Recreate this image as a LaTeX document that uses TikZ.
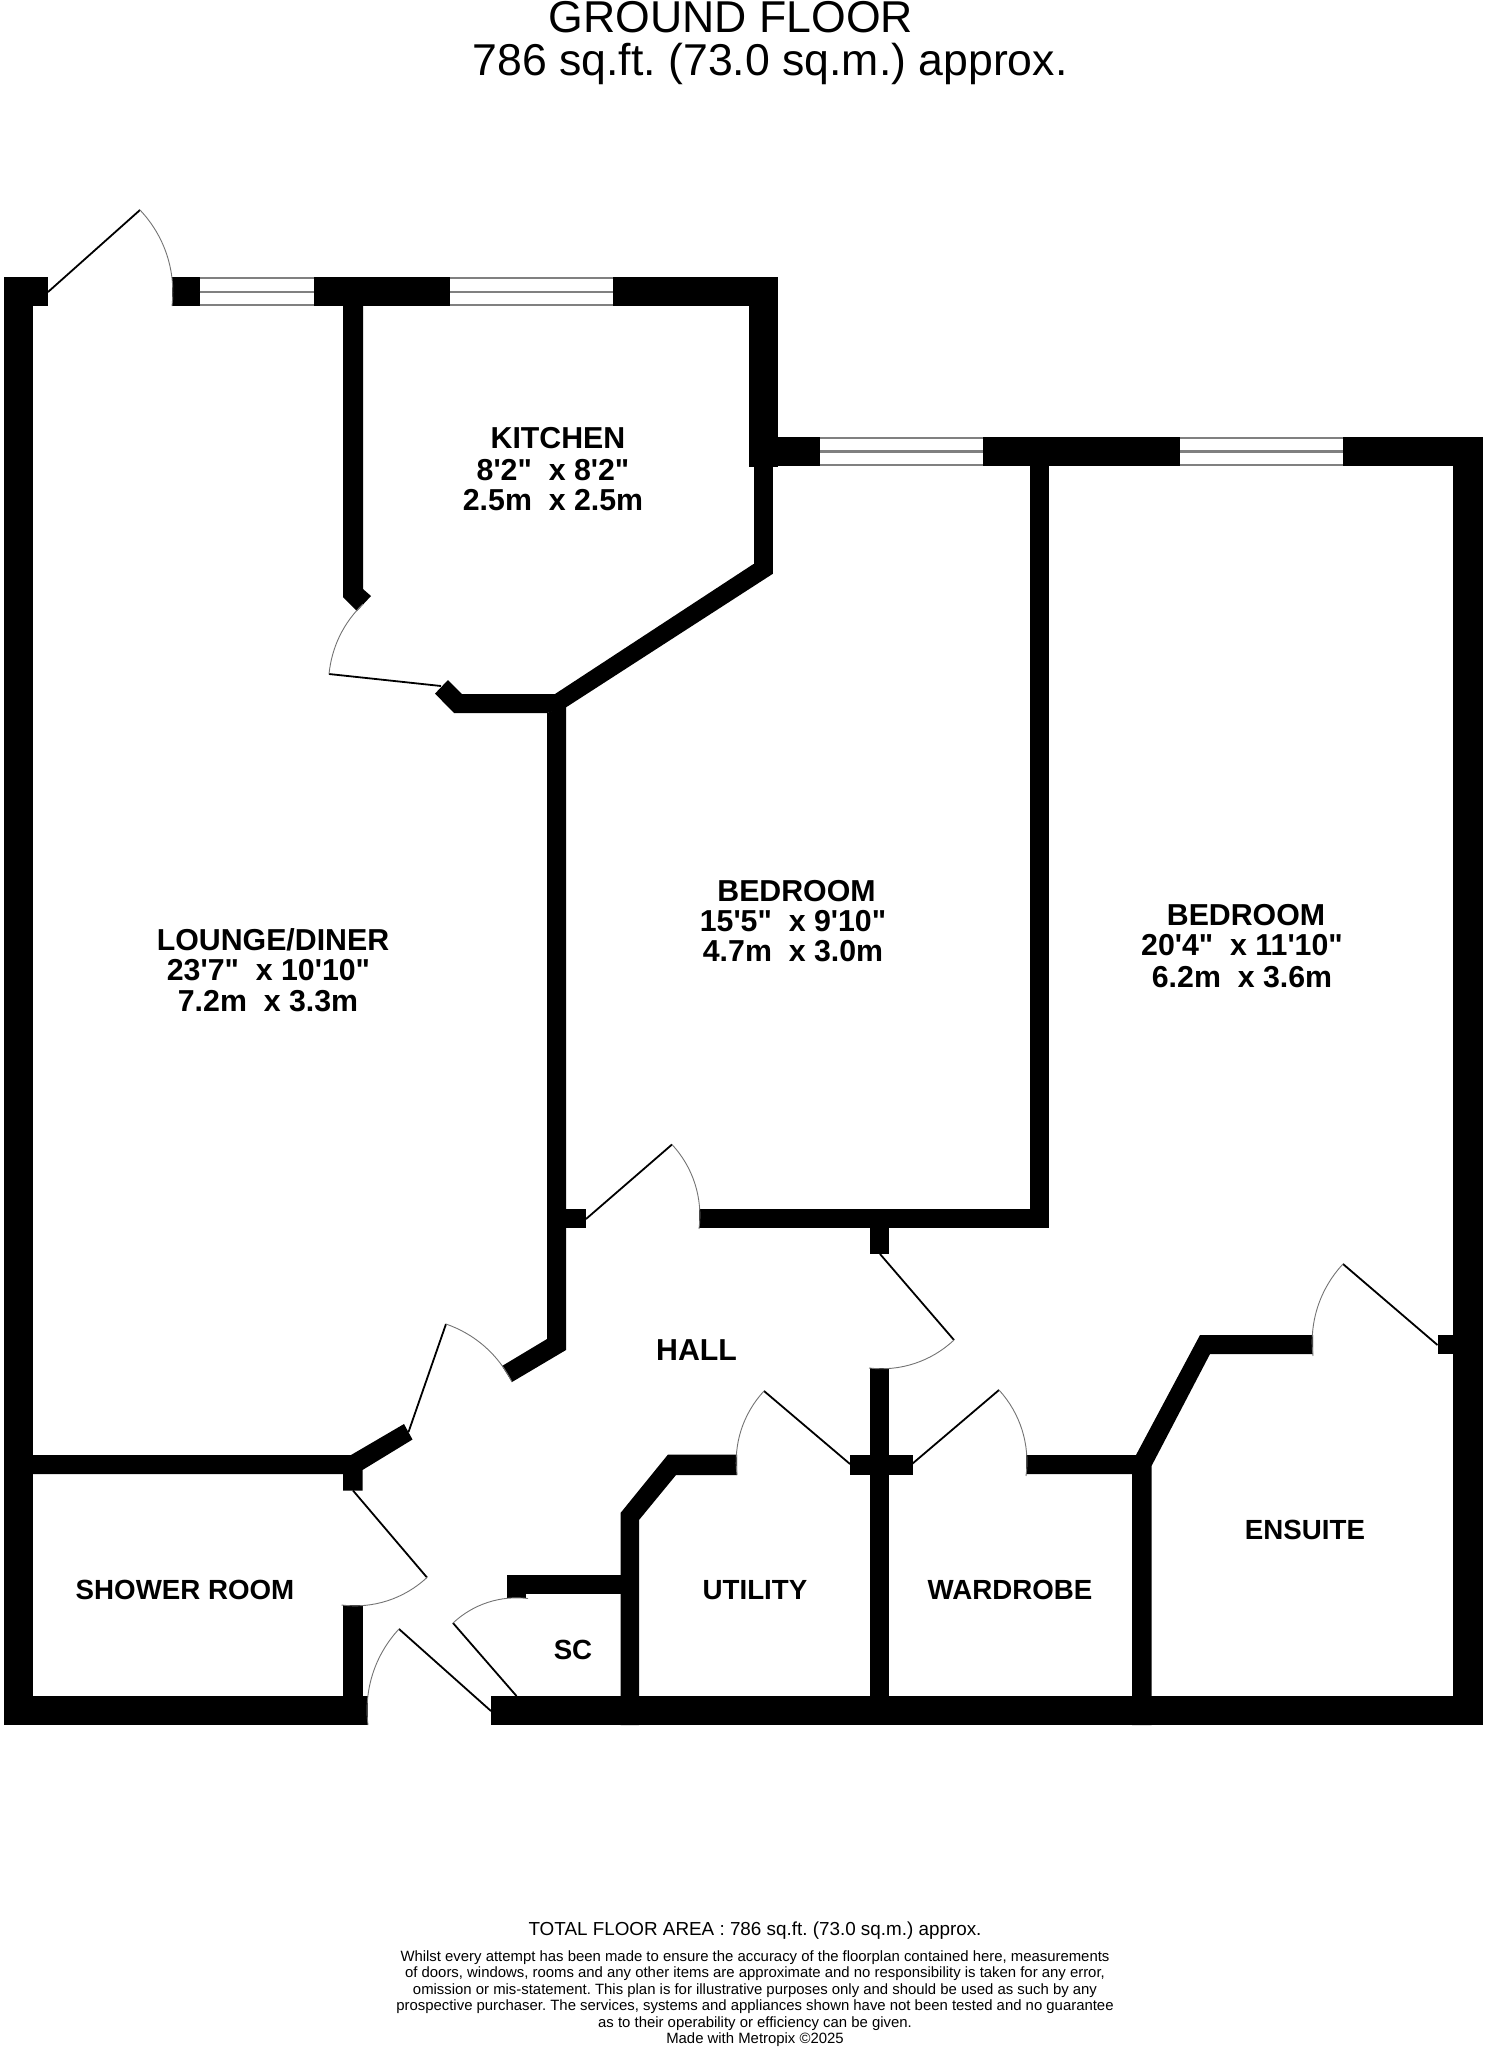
\documentclass[tikz,border=0pt]{standalone}
\usepackage{fontspec}
\newfontfamily\lib{Liberation Sans}
\newcommand{\bigrm}{\lib\bfseries\fontsize{30.3}{31}\selectfont}
\newcommand{\smrm}{\lib\bfseries\fontsize{27.7}{30}\selectfont}
\tikzset{
  wall/.style={fill=black,draw=none},
  leaf/.style={draw=black,line width=1.8pt},
  swing/.style={draw=black!55,line width=0.9pt,looseness=0.9},
  pane/.style={draw=black!50,line width=2.2pt},
  roomlabel/.style={inner sep=0pt,font=\bigrm,align=center},
  smalllabel/.style={inner sep=0pt,font=\smrm},
  heading/.style={inner sep=0pt,font=\lib\fontsize{44.6}{44.6}\selectfont},
  footer/.style={inner sep=0pt,font=\lib\fontsize{18.85}{20}\selectfont},
  notice/.style={inner sep=0pt,align=center,font=\lib\fontsize{14.9}{16.4}\selectfont}
}
\begin{document}
\frenchspacing
\begin{tikzpicture}[x=1pt,y=-1pt]
\useasboundingbox (0,0) rectangle (1485,2048);
% walls
\fill[wall] (3.5,277) rectangle (32.6,1725);
\fill[wall] (3.5,277) rectangle (48,306);
\fill[wall] (172,277) rectangle (199.5,306);
\fill[wall] (314,277) rectangle (450,306);
\fill[wall] (613,277) rectangle (778,306);
\fill[wall] (343,306) -- (363,306) -- (363,589) -- (371,596) -- (357,611) -- (343,597) -- cycle;
\fill[wall] (749,277) rectangle (778,467);
\fill[wall] (753.5,467) rectangle (772.5,574);
\fill[wall] (448,680) -- (462,694) -- (555,694) -- (753.5,564) -- (772.5,574) -- (565,708) -- (547,713) -- (454,713) -- (435,693.6) -- cycle;
\fill[wall] (547,713) -- (566,706) -- (566,1350) -- (512,1382) -- (502,1366) -- (547,1339) -- cycle;
\fill[wall] (566,1209) rectangle (586,1228);
\fill[wall] (749,437) rectangle (820,466);
\fill[wall] (983,437) rectangle (1180,466);
\fill[wall] (1343,437) rectangle (1483,466);
\fill[wall] (1030,466) rectangle (1049,1228);
\fill[wall] (699,1209) rectangle (1049,1228);
\fill[wall] (870,1209) rectangle (889,1254);
\fill[wall] (870,1368) rectangle (889,1725);
\fill[wall] (850,1454.5) rectangle (912.5,1475);
\fill[wall] (737,1454.5) -- (668,1454.5) -- (620.5,1513) -- (620.5,1725) -- (639,1725) -- (639,1520) -- (676,1475) -- (737,1475) -- cycle;
\fill[wall] (507,1575) rectangle (620.5,1594);
\fill[wall] (507,1575) rectangle (526,1598);
\fill[wall] (491,1696) rectangle (1483,1725);
\fill[wall] (3.5,1696) rectangle (368,1725);
\fill[wall] (343,1605) rectangle (362.5,1696);
\fill[wall] (32,1455) -- (351,1455) -- (404,1424) -- (412.5,1439.5) -- (362.5,1470) -- (362.5,1490.5) -- (343,1490.5) -- (343,1474) -- (32,1474) -- cycle;
\fill[wall] (1026,1455) -- (1136,1455) -- (1200,1335) -- (1313,1335) -- (1313,1354) -- (1210,1354) -- (1151.5,1466) -- (1151.5,1725) -- (1132,1725) -- (1132,1474) -- (1026,1474) -- cycle;
\fill[wall] (1453,437) rectangle (1483,1725);
\fill[wall] (1437.5,1335) rectangle (1453,1354);
% windows
\foreach \xa/\xb in {199.5/314,450/613}{
  \foreach \yy in {278,292,305}{\draw[pane] (\xa,\yy) -- (\xb,\yy);}
}
\foreach \xa/\xb in {820/983,1180/1343}{
  \foreach \yy in {438,451.5,465}{\draw[pane] (\xa,\yy) -- (\xb,\yy);}
}
% doors
\draw[leaf] (48,292) -- (140,210);
\draw[swing] (140,210) to[bend left=25] (172,306);
\draw[leaf] (441,686) -- (329,674);
\draw[swing] (329,674) to[bend left=20] (363,604);
\draw[leaf] (586,1219) -- (672,1144.5);
\draw[swing] (672,1144.5) to[bend left=25] (699,1229);
\draw[leaf] (880,1254) -- (954,1340);
\draw[swing] (954,1340) to[bend left=25] (869,1368);
\draw[leaf] (850,1464) -- (764,1391);
\draw[swing] (764,1391) to[bend right=25] (737,1475);
\draw[leaf] (912,1464) -- (999,1390);
\draw[swing] (999,1390) to[bend left=25] (1026,1476);
\draw[leaf] (1437.5,1345) -- (1343,1264);
\draw[swing] (1343,1264) to[bend right=25] (1313,1356);
\draw[leaf] (408.5,1432) -- (446,1324);
\draw[swing] (446,1324) to[bend left=22] (512,1382);
\draw[leaf] (353,1490.5) -- (427,1577.5);
\draw[swing] (427,1577.5) to[bend left=25] (341.5,1605);
\draw[leaf] (516.5,1696) -- (453,1623);
\draw[swing] (453,1623) to[bend left=25] (528,1598.5);
\draw[leaf] (491,1711) -- (399,1629);
\draw[swing] (399,1629) to[bend right=25] (368,1725);
% titles
\node[heading] (title) at (731,17) {GROUND FLOOR};
\node[heading] (area) at (770,63.5) {786 sq.ft. (73.0 sq.m.) approx.};
% rooms
\node[roomlabel] (kitchen) at (558,438) {KITCHEN};
\node[roomlabel] (kitchena) at (553,470) {8'2"\ \ x 8'2"};
\node[roomlabel] (kitchenb) at (553,500.5) {2.5m\ \ x 2.5m};
\node[roomlabel] (lounge) at (273,940) {LOUNGE/DINER};
\node[roomlabel] (loungea) at (268.5,970.5) {23'7"\ \ x 10'10"};
\node[roomlabel] (loungeb) at (268,1001) {7.2m\ \ x 3.3m};
\node[roomlabel] (beda) at (796.5,890.7) {BEDROOM};
\node[roomlabel] (bedaa) at (793,921) {15'5"\ \ x 9'10"};
\node[roomlabel] (bedab) at (793,951) {4.7m\ \ x 3.0m};
\node[roomlabel] (bedb) at (1246,915.5) {BEDROOM};
\node[roomlabel] (bedba) at (1242,945.5) {20'4"\ \ x 11'10"};
\node[roomlabel] (bedbb) at (1242,977) {6.2m\ \ x 3.6m};
\node[roomlabel] (hall) at (696.6,1350) {HALL};
\node[smalllabel] (utility) at (755,1590) {UTILITY};
\node[smalllabel] (sc) at (573,1650) {SC};
\node[smalllabel] (wardrobe) at (1010,1590) {WARDROBE};
\node[smalllabel] (ensuite) at (1305,1530) {ENSUITE};
\node[smalllabel] (shower) at (185,1590) {SHOWER ROOM};
% footer
\node[footer] (total) at (755,1930.5) {TOTAL FLOOR AREA : 786 sq.ft. (73.0 sq.m.) approx.};
\node[notice,anchor=north] (notes) at (755,1950.5) {Whilst every attempt has been made to ensure the accuracy of the floorplan contained here, measurements\\
of doors, windows, rooms and any other items are approximate and no responsibility is taken for any error,\\
omission or mis-statement. This plan is for illustrative purposes only and should be used as such by any\\
prospective purchaser. The services, systems and appliances shown have not been tested and no guarantee\\
as to their operability or efficiency can be given.\\
Made with Metropix \textcopyright 2025};
\end{tikzpicture}
\end{document}
